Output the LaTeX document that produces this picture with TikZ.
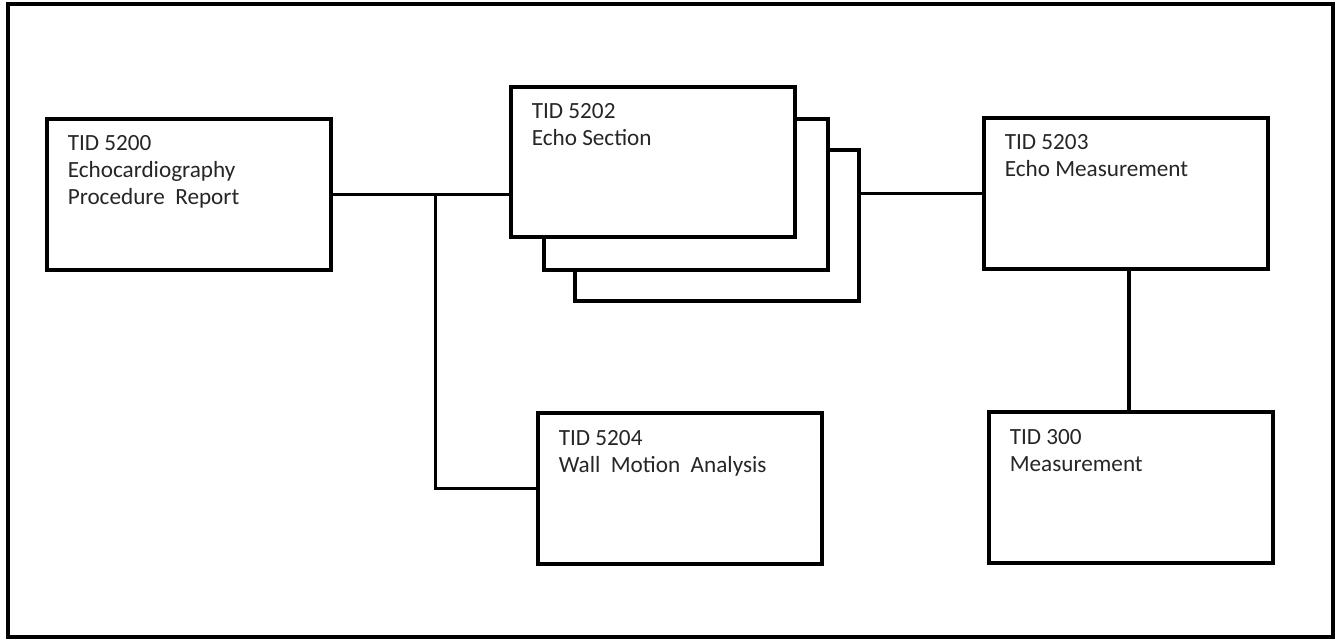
\documentclass[tikz,border=0pt]{standalone}
\usepackage{fontspec}
\setmainfont{Carlito}
\usetikzlibrary{positioning}

\begin{document}
\begin{tikzpicture}[x=0.5pt, y=-0.5pt, line width=1.8pt,
    tidbox/.style={draw, fill=white, inner sep=0pt, anchor=north west,
      minimum width=142pt, minimum height=75.5pt},
    tidtext/.style={anchor=north west, align=left, inner sep=0pt,
      text=black!85, font=\fontsize{11.6}{13.5}\selectfont}]
  \useasboundingbox (0,0) rectangle (1337,639);
  \draw (8,4) rectangle (1333,637); % outer frame

  % boxes
  \node[tidbox] (A) at (45,117) {};
  \node[tidbox] (B3) at (573,148) {};
  \node[tidbox] (B2) at (542,117) {};
  \node[tidbox, minimum height=75pt] (B1) at (509,85) {};
  \node[tidbox] (C) at (982,116) {};
  \node[tidbox] (D) at (536,411) {};
  \node[tidbox] (E) at (987,410) {};

  % texts
  \node[tidtext] (tA) at ([shift={(21,17)}]A.north west) {TID 5200\\Echocardiography\\Procedure~ Report};
  \node[tidtext] (tB) at ([shift={(21,17)}]B1.north west) {TID 5202\\Echo Section};
  \node[tidtext] (tC) at ([shift={(21,17)}]C.north west) {TID 5203\\Echo Measurement};
  \node[tidtext] (tD) at ([shift={(21,18)}]D.north west) {TID 5204\\Wall~ Motion~ Analysis};
  \node[tidtext] (tE) at ([shift={(21,18)}]E.north west) {TID 300\\Measurement};

  % connectors
  \coordinate (J) at ([xshift=51.5pt]A.east);
  \draw (A.east) -- (A.east -| B1.west);
  \draw (J) |- (D.west);
  \draw (B3.east |- C.west) -- (C.west);
  \draw ([xshift=1.5pt]C.south) -- ([xshift=1.5pt]C.south |- E.north);
\end{tikzpicture}
\end{document}
